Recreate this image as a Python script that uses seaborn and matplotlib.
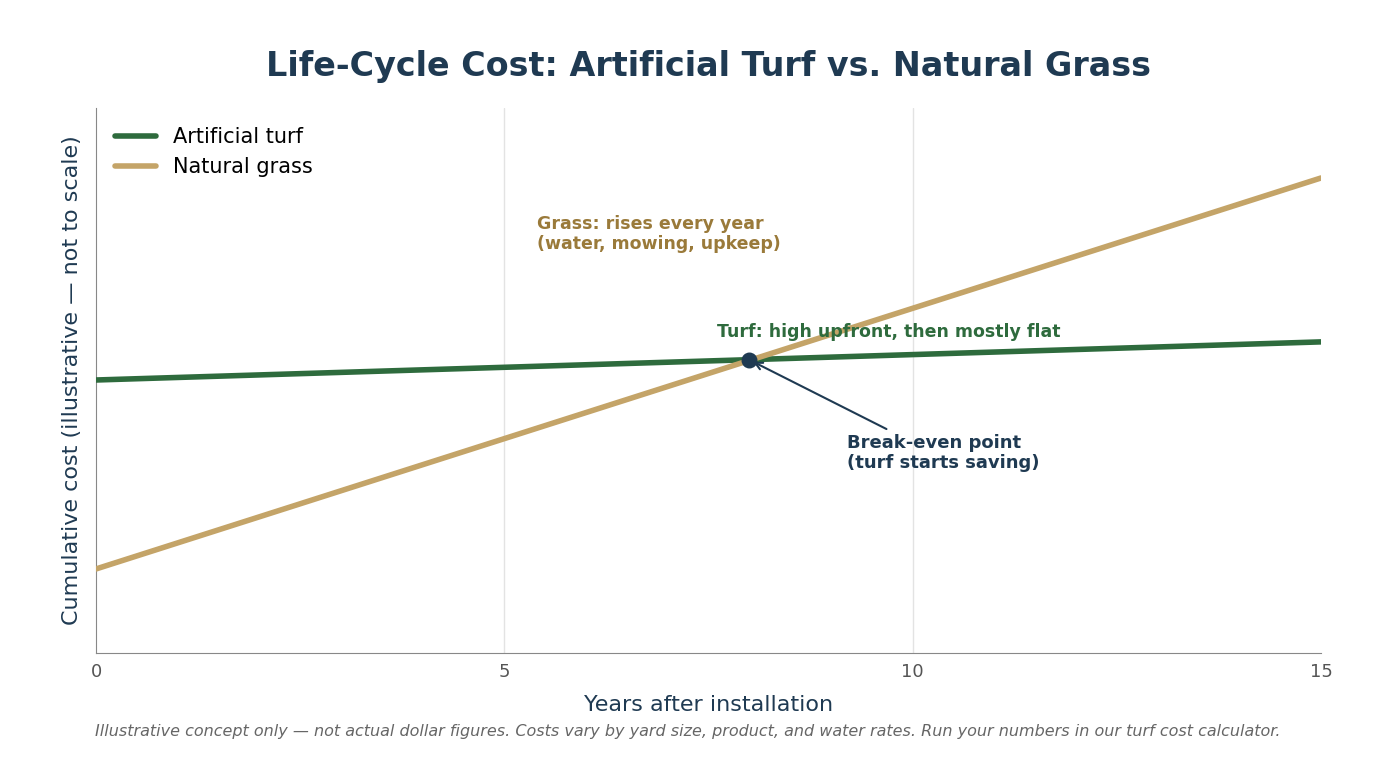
import matplotlib
matplotlib.use("Agg")
import matplotlib.pyplot as plt
import seaborn as sns
import pandas as pd

years = [0, 15]
turf_cost = [50.1, 57.1]
grass_cost = [15.4, 87.2]
breakeven_year = 8.0
breakeven_cost = 53.8

sns.set_style("white")
plt.rcParams['font.family'] = ['DejaVu Sans']

navy = "#1f3a52"
green = "#2e6b3d"
tan = "#c4a468"

fig = plt.figure(figsize=(13.76, 7.68), dpi=100)
ax = fig.add_axes([0.0698, 0.150, 0.8902, 0.709])

df = pd.DataFrame({"year": years * 2,
                   "cost": turf_cost + grass_cost,
                   "series": ["Artificial turf"] * 2 + ["Natural grass"] * 2})
sns.lineplot(data=df, x="year", y="cost", hue="series",
             palette={"Artificial turf": green, "Natural grass": tan},
             linewidth=4, ax=ax, zorder=3)

ax.scatter([breakeven_year], [breakeven_cost], s=110, color=navy, zorder=5)

ax.set_xlim(0, 15)
ax.set_ylim(0, 100)
ax.set_xticks([0, 5, 10, 15])
ax.set_yticks([])
ax.tick_params(axis="x", labelsize=13, colors="#555555", length=4)
for x in [5, 10]:
    ax.axvline(x, color="#e3e3e3", linewidth=1, zorder=0)
for s in ["top", "right"]:
    ax.spines[s].set_visible(False)
for s in ["left", "bottom"]:
    ax.spines[s].set_color("#888888")

ax.set_xlabel("Years after installation", fontsize=16, color=navy, labelpad=10)
ax.set_ylabel("Cumulative cost (illustrative — not to scale)", fontsize=16, color=navy, labelpad=10)

leg = ax.legend(loc="upper left", fontsize=15, frameon=False, handlelength=2.0,
                bbox_to_anchor=(0.0, 1.0), labelcolor="black")

ax.text(5.4, 76.9, "Grass: rises every year\n(water, mowing, upkeep)", fontsize=12.5,
        fontweight="bold", color="#9a7a3a", va="center")
ax.text(7.6, 58.9, "Turf: high upfront, then mostly flat", fontsize=12.5,
        fontweight="bold", color=green, va="center")
ax.annotate("Break-even point\n(turf starts saving)", xy=(breakeven_year, breakeven_cost),
            xytext=(9.2, 36.7), fontsize=13, fontweight="bold", color=navy, va="center",
            arrowprops=dict(arrowstyle="->", color=navy, lw=1.5,
                            relpos=(0.25, 1.0), shrinkA=2, shrinkB=3))

fig.text(0.515, 0.913, "Life-Cycle Cost: Artificial Turf vs. Natural Grass", ha="center",
         va="center", fontsize=24, fontweight="bold", color=navy)
fig.text(0.069, 0.047, "Illustrative concept only — not actual dollar figures. Costs vary by yard size, "
         "product, and water rates. Run your numbers in our turf cost calculator.",
         fontsize=11.5, style="italic", color="#666666", va="center")

fig.savefig("out.png", dpi=100)
